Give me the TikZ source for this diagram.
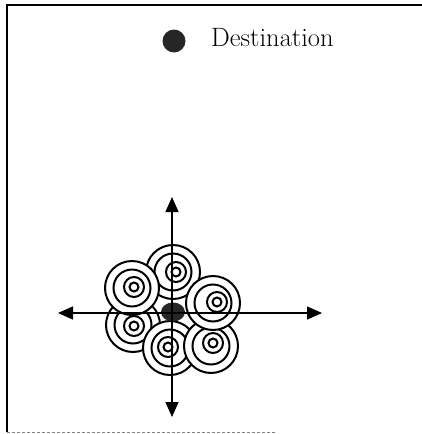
\documentclass[tikz,border=0pt]{standalone}
\usetikzlibrary{arrows.meta,shapes.geometric}
\begin{document}
\begin{tikzpicture}[x=1pt,y=-1pt,
  ring/.style={draw=black,line width=2pt,fill=white},
  axis/.style={line width=1.4pt,-{Triangle[length=15pt,width=13pt]}},
  frame/.style={line width=1.3pt},
  dot/.style={circle,fill=black!85,inner sep=0pt}]
\useasboundingbox (0,0) rectangle (422,434);
% frame
\coordinate (ftr) at (422,5);
\coordinate (ftl) at (7,5);
\coordinate (fbl) at (7,432);
\coordinate (fbr) at (275,432);
\draw[frame] (ftr) -- (ftl) -- (fbl);
\draw[line width=0.8pt,gray,densely dashed] (fbl) -- (fbr);
% destination
\node[dot,minimum size=23pt] (dest) at (174,41) {};
\node[anchor=base west,inner sep=0pt,font=\fontsize{26.5}{30}\selectfont] (lbl) at (211,46) {Destination};
% targets: outer centre, inner centre
\def\tgt(#1,#2)(#3,#4){%
  \draw[ring] (#1,#2) circle[radius=27];
  \draw[ring] (#1,#2) circle[radius=18.5];
  \draw[ring] (#3,#4) circle[radius=10];
  \draw[ring] (#3,#4) circle[radius=4.5];
}
\tgt(133,325)(134,326)
\tgt(170,348)(168,347)
\tgt(211,346)(213,343)
\tgt(173,272)(176,272)
\tgt(132,288)(134,287)
\tgt(213,303)(217,302)
% centre blob
\node[ellipse,fill=black!85,inner sep=0pt,minimum width=24pt,minimum height=19pt] (o) at (173,312) {};
% axes
\coordinate (n) at (172,197);
\coordinate (s) at (172,417);
\coordinate (w) at (58,313);
\coordinate (e) at (322,313);
\coordinate (c) at (172,313);
\draw[axis] (c) -- (n);
\draw[axis] (c) -- (s);
\draw[axis] (c) -- (w);
\draw[axis] (c) -- (e);
\end{tikzpicture}
\end{document}
